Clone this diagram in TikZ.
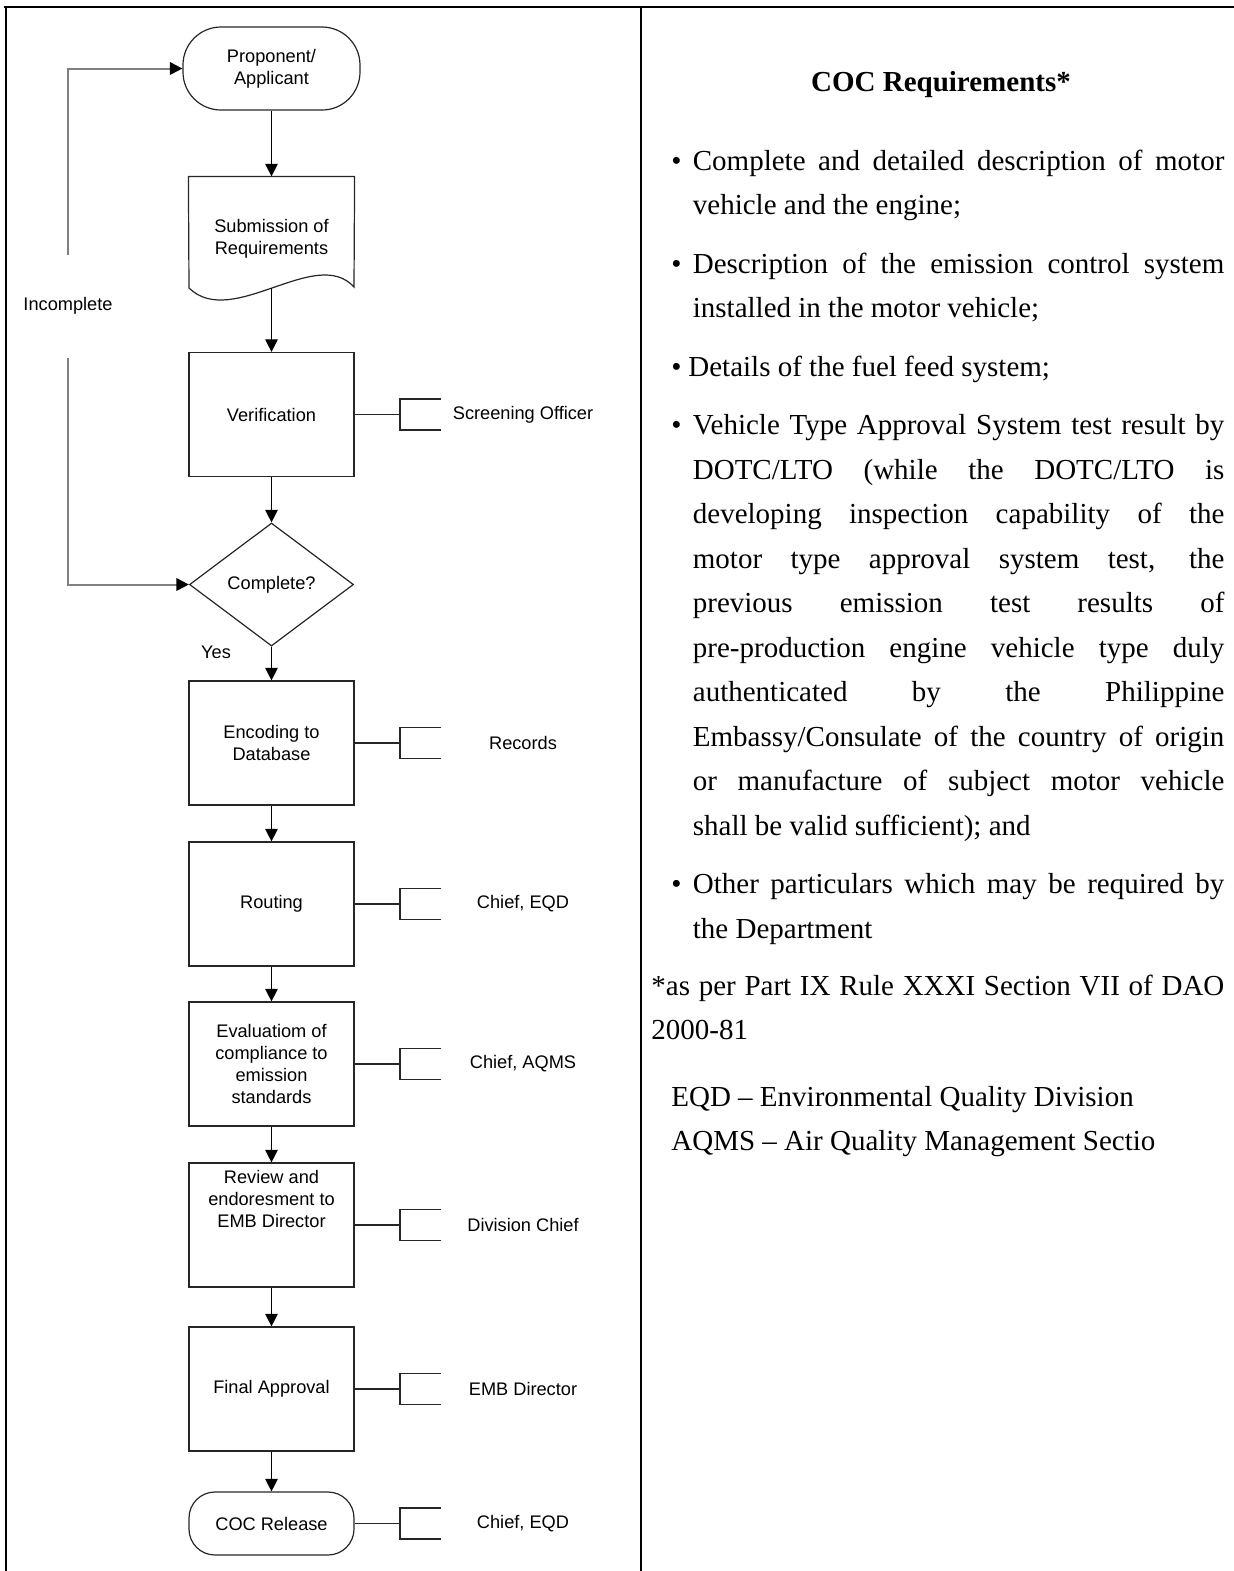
\documentclass[tikz,border=0pt]{standalone}
\usepackage{fontspec}
\setmainfont{Liberation Serif}
\newfontfamily\flowfont{Liberation Sans}
\usetikzlibrary{shapes.geometric,arrows.meta}

% bullet paragraph with hanging indent
\newcommand\bitem[1][10.75pt]{\hangindent=#1\hangafter=1\noindent\makebox[#1][l]{\textbullet}}

\begin{document}
\begin{tikzpicture}[x=0.5pt,y=-0.5pt,
  box/.style={draw=black!85,line width=0.6pt,minimum width=82.5pt,minimum height=62pt,inner sep=1pt,align=center,font=\flowfont\fontsize{9.1}{11.15}\selectfont},
  term/.style={box,rounded corners=13pt,minimum height=31.5pt},
  flow/.style={line width=0.6pt,-{Triangle[length=6.3pt,width=6.3pt]}},
  back/.style={gray,line width=1pt,-{Triangle[length=6.3pt,width=6.3pt,color=black]}},
  role/.style={font=\flowfont\fontsize{9.1}{11.15}\selectfont},
  cell/.style={anchor=north west,inner sep=0pt,align=justify,font=\fontsize{14.5}{22.25}\selectfont}]

\useasboundingbox (0,0) rectangle (1234,1571);

% table frame
\draw[line width=1.4pt] (4,7)--(1234,7);
\draw[line width=1.1pt] (6,7)--(6,1571);
\draw[line width=1.1pt] (641,7)--(641,1571);

% flow chart
\node[term,minimum width=88.5pt,minimum height=41.5pt,rounded corners=19pt] (prop) at (271.5,68.5) {Proponent/\\Applicant};
\node[box,draw=none] (submit) at (271.5,239) {Submission of\\Requirements};
\draw[line width=0.6pt,black!85] (submit.north west)--(submit.north east)--(354,287)
  .. controls (316,245) and (232,330) .. (189,288)--cycle;
\coordinate (subbot) at (271.5,288);

\node[box] (verif) at (271.5,414.5) {Verification};
\node[diamond,draw=black!85,line width=0.6pt,minimum width=82pt,minimum height=61.5pt,inner sep=0pt,aspect=1.33,font=\flowfont\fontsize{9.1}{11.15}\selectfont] (dec) at (271.5,584.5) {Complete?};
\node[box] (enc) at (271.5,743) {Encoding to\\Database};
\node[box] (rout) at (271.5,904) {Routing};
\node[box] (eval) at (271.5,1064) {Evaluatiom of\\compliance to\\emission\\standards};
\node[box] (rev) at (271.5,1225) {};
\node[role,align=center] (revtext) at (271.5,1199) {Review and\\endoresment to\\EMB Director};
\node[box] (fin) at (271.5,1389) {Final Approval};
\node[term] (rel) at (271.5,1523.5) {COC Release};

\draw[flow] (prop)--(submit);
\draw[flow] (subbot)--(verif);
\draw[flow] (verif)--(dec);
\draw[flow] (dec)--(enc);
\draw[flow] (enc)--(rout);
\draw[flow] (rout)--(eval);
\draw[flow] (eval)--(rev);
\draw[flow] (rev)--(fin);
\draw[flow] (fin)--(rel);

\node[role] (yes) at (216,652) {Yes};

% loop back when incomplete
\coordinate (upper) at (68,255);
\coordinate (lower) at (68,358);
\draw[back] (upper) |- (prop.west);
\draw[back] (lower) |- (dec.west);
\node[role] (inc) at (68,306) {Incomplete};

% who does each step
\foreach \n/\t in {verif/Screening Officer,enc/Records,rout/{Chief, EQD},eval/{Chief, AQMS},rev/Division Chief,fin/EMB Director,rel/{Chief, EQD}}{
  \draw[line width=0.6pt,black!85] (\n.east)--(\n.east -| 400,0);
  \draw[line width=0.6pt,black!85] (\n.east -| 441,0) ++(0,-15.5)--++(-41,0)--++(0,31)--++(41,0);
  \node[role] (who-\n) at (\n.east -| 523,0) {\t};
}

% requirements column
\node[font=\bfseries\fontsize{14.5}{22.25}\selectfont,anchor=base] (reqtitle) at (941,91) {COC Requirements*};

\node[cell,text width=276.5pt] (reqs) at (671,138.85) {%
  \spaceskip=3.625pt plus 20pt minus 0.5pt\xspaceskip=\spaceskip
  \tolerance=10000\parskip=7pt\parindent=0pt%
  \bitem\strut Complete and detailed description of motor\linebreak vehicle and the engine;\par
  \bitem Description of the emission control system\linebreak installed in the motor vehicle;\par
  \bitem[8.5pt]Details of the fuel feed system;\par
  \bitem Vehicle Type Approval System test result by\linebreak
  DOTC/LTO (while the DOTC/LTO is\linebreak
  developing inspection capability of the\linebreak
  motor type approval system test, the\linebreak
  previous emission test results of\linebreak
  pre-production engine vehicle type duly\linebreak
  authenticated by the Philippine\linebreak
  Embassy/Consulate of the country of origin\linebreak
  or manufacture of subject motor vehicle\linebreak
  shall be valid sufficient); and\par
  \bitem Other particulars which may be required by\linebreak the Department\par};

\node[cell,text width=286.5pt] (dao) at (651,963.85) {%
  \spaceskip=3.625pt plus 20pt minus 0.5pt\xspaceskip=\spaceskip
  \tolerance=10000\parindent=0pt%
  \strut*as per Part IX Rule XXXI Section VII of DAO\linebreak 2000-81\par};

\node[cell,align=left] (abbr) at (671,1074.85) {\strut EQD -- Environmental Quality Division\\
  AQMS -- Air Quality Management Sectio};

\end{tikzpicture}
\end{document}
